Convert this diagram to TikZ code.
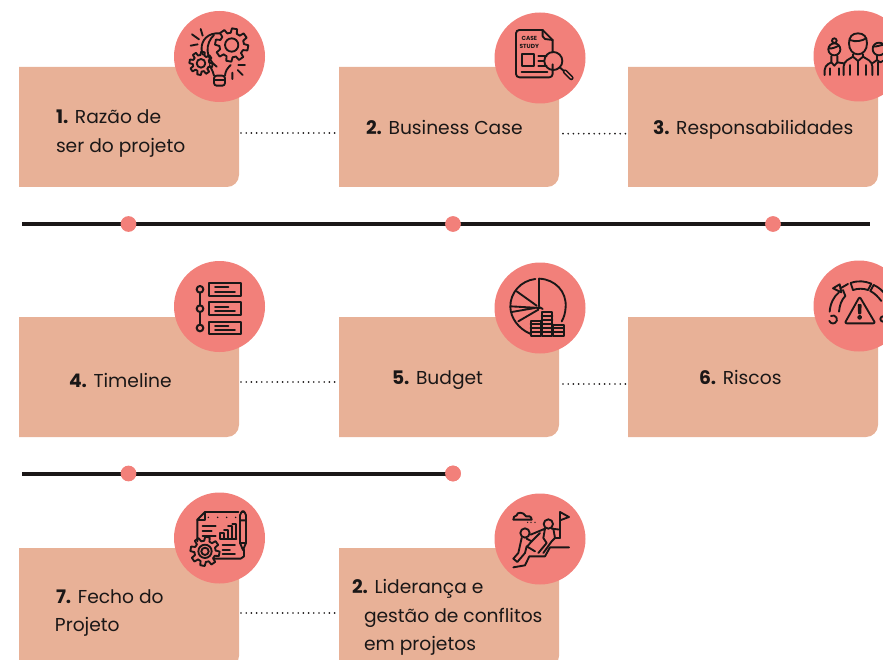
\documentclass[tikz,border=0pt]{standalone}
\usepackage{fontspec}
\setmainfont{Poppins}
\definecolor{cardc}{HTML}{E8B197}
\definecolor{pinkc}{HTML}{F2807A}
\definecolor{ink}{HTML}{1A1717}
\tikzset{
  card/.style={inner sep=0pt,outer sep=0pt},
  badge/.style={circle,fill=pinkc,minimum size=68.25pt,inner sep=0pt,outer sep=0pt},
  pin/.style={circle,fill=pinkc,minimum size=11.8pt,inner sep=0pt,outer sep=0pt},
  lbl/.style={anchor=base west,inner sep=0pt,outer sep=0pt,text=ink,font=\fontsize{14}{16}\selectfont},
  rail/.style={draw=ink,line width=3pt},
  dots/.style={draw=ink,line width=1.4pt,line cap=round,dash pattern=on 0pt off 3.9pt},
  ic/.style={draw=ink,line width=1.4pt,line cap=round,line join=round},
  icon/.style={x=.25pt,y=-.25pt}
}
\newcommand{\cardat}[5]{%
  \node[card,minimum width=#4*.75pt,minimum height=#5*.75pt] (#1) at (#2,#3) {};
  \fill[cardc] (#1.north west) -- (#1.north east) [rounded corners=9pt] -- (#1.south east) [sharp corners] -- (#1.south west) -- cycle;
}
\newcommand{\gearic}[5]{%
  \begin{scope}[shift={(#1,#2)}]
    \pgfmathsetmacro\stp{360/#5}
    \fill[pinkc] (0,0) circle (#3);
    \foreach \i in {1,...,#5}{
      \pgfmathsetmacro\aa{(\i-1)*\stp+10}
      \draw[ic] ({\aa-.32*\stp}:#3) -- ({\aa-.2*\stp}:#4) -- ({\aa+.2*\stp}:#4) -- ({\aa+.32*\stp}:#3) -- ({\aa+.68*\stp}:#3);
    }
  \end{scope}}
\begin{document}
\begin{tikzpicture}[x=.75pt,y=-.75pt]
\clip (0,0) rectangle (883,660);
\useasboundingbox (0,0) rectangle (883,660);
% cards
\cardat{b1}{129}{127}{220}{120}
\cardat{b2}{449}{127}{220}{120}
\cardat{b3}{753}{127}{250}{120}
\cardat{b4}{129}{377}{220}{120}
\cardat{b5}{449}{377}{220}{120}
\cardat{b6}{753}{377}{250}{120}
\cardat{b7}{129}{608}{220}{120}
\cardat{b8}{449}{608}{220}{120}
% badges
\node[badge] (c1) at (219.5,56.5) {};
\node[badge] (c2) at (540,58) {};
\node[badge] (c3) at (859,56) {};
\node[badge] (c4) at (219.5,306.5) {};
\node[badge] (c5) at (540,308) {};
\node[badge] (c6) at (859,306) {};
\node[badge] (c7) at (219.5,538) {};
\node[badge] (c8) at (540,539) {};
% dotted connectors
\draw[dots] ([xshift=1.5pt,yshift=-4.5pt]b1.east) -- ([yshift=-4.5pt]b2.west);
\draw[dots] ([xshift=3pt,yshift=-5pt]b2.east) -- ([yshift=-5pt]b3.west);
\draw[dots] ([xshift=1.5pt]b4.east |- 0,382) -- (b5.west |- 0,382);
\draw[dots] ([xshift=3pt]b5.east |- 0,384) -- (b6.west |- 0,384);
\draw[dots] ([xshift=1.5pt]b7.east |- 0,613) -- (b8.west |- 0,613);
% rails
\coordinate (r1a) at (22,224);
\coordinate (r1b) at (870,224);
\coordinate (r2a) at (22,473.5);
\draw[rail] (r1a) -- (r1b);
\node[pin] (p1) at (128.5,224) {};
\node[pin] (p2) at (453,224) {};
\node[pin] (p3) at (773,224) {};
\node[pin] (p5) at (453,473.5) {};
\draw[rail] (r2a) -- (p5.center);
\node[pin] (p4) at (128.5,473.5) {};
\node[pin] at (453,473.5) {};
% labels
\node[lbl] (t1) at (56,123) {\textbf{1.} Razão de};
\node[lbl] (t1b) at (56,152) {ser do projeto};
\node[lbl] (t2) at (366,135) {\textbf{2.} Business Case};
\node[lbl] (t3) at (653,135) {\textbf{3.} Responsabilidades};
\node[lbl] (t4) at (69,387) {\textbf{4.} Timeline};
\node[lbl] (t5) at (392,384) {\textbf{5.} Budget};
\node[lbl] (t6) at (699,384) {\textbf{6.} Riscos};
\node[lbl] (t7) at (56,603) {\textbf{7.} Fecho do};
\node[lbl] (t7b) at (55,631) {Projeto};
\node[lbl] (t8) at (352,593) {\textbf{2.} Liderança e};
\node[lbl] (t8b) at (364,622) {gestão de conflitos};
\node[lbl] (t8c) at (364,650) {em projetos};
% ---- icon 1
\begin{scope}[shift={(170,5)},icon]
\draw[ic] (150,85) .. controls (115,82) and (92,105) .. (95,135) .. controls (97,160) and (125,180) .. (132,212);
\draw[ic] (132,90) .. controls (105,115) and (105,160) .. (140,185);
\draw[ic] (182,180) .. controls (172,190) and (166,198) .. (165,212);
\gearic{185}{120}{37}{50}{8}
\draw[ic] (185,120) circle (20);
\gearic{93}{175}{25}{35}{8}
\draw[ic] (93,175) circle (13);
\draw[ic,rounded corners=2pt] (132,212) -- (165,212) -- (165,242) -- (132,242) -- cycle;
\draw[ic] (132,225) -- (165,225);
\draw[ic] (66,88) -- (87,103) (92,72) -- (98,92) (62,122) -- (83,118);
\draw[ic] (205,180) -- (225,180) (203,195) -- (218,210) (187,203) -- (187,222);
\end{scope}
% ---- icon 2
\begin{scope}[shift={(490,5)},icon]
\draw[ic,rounded corners=2.5pt] (158,75) -- (78,75) -- (78,217) -- (188,217) -- (188,178);
\draw[ic] (158,75) -- (188,105) -- (188,142);
\draw[ic] (158,75) -- (158,94) -- (165,102) -- (188,105);
\node[inner sep=0pt,text=ink,font=\fontsize{4.4}{5}\selectfont\bfseries] (cs1) at (118,100) {CASE};
\node[inner sep=0pt,text=ink,font=\fontsize{4.4}{5}\selectfont\bfseries] (cs2) at (118,125) {STUDY};
\draw[ic] (95,147) rectangle (132,183);
\draw[ic] (145,152) -- (170,152) (145,167) -- (162,167) (145,183) -- (170,183);
\draw[ic] (95,200) -- (172,200);
\draw[ic] (190,168) circle (27);
\draw[ic] (209,187) -- (222,198);
\draw[draw=ink,line width=3.4pt,line cap=round] (225,200) -- (244,219);
\draw[draw=pinkc,line width=1pt,line cap=round] (225,200) -- (244,219);
\end{scope}
% ---- icon 3
\begin{scope}[shift={(803,5)},icon]
\draw[ic] (94,133) circle (18);
\draw[ic] (94,107) circle (7);
\draw[ic] (77,130) .. controls (90,132) and (100,125) .. (108,122);
\draw[ic,rounded corners=3pt] (65,210) -- (65,183) -- (85,172);
\draw[ic,rounded corners=3pt] (122,175) -- (103,172);
\draw[ic] (85,153) -- (85,172) -- (94,182) -- (103,172) -- (103,153);
\draw[ic] (80,190) -- (80,210) (108,190) -- (108,210);
\draw[ic] (138,115) .. controls (138,95) and (148,85) .. (165,85) .. controls (182,85) and (192,95) .. (192,115) .. controls (192,135) and (180,148) .. (165,148) .. controls (150,148) and (138,135) .. (138,115) -- cycle;
\draw[ic] (140,105) .. controls (160,112) and (175,108) .. (190,100);
\draw[ic,rounded corners=3pt] (122,210) -- (122,172) -- (150,155);
\draw[ic,rounded corners=3pt] (180,155) -- (208,172) -- (208,210);
\draw[ic] (150,148) -- (150,155) -- (165,168) -- (180,155) -- (180,148);
\draw[ic] (165,168) -- (165,210) (140,180) -- (140,210) (190,180) -- (190,210);
\draw[ic] (228,132) circle (19);
\draw[ic] (210,125) .. controls (222,125) and (235,120) .. (245,118);
\draw[ic] (208,175) -- (222,165) -- (232,172) -- (245,165) (222,150) -- (222,165) (225,172) -- (225,210);
\end{scope}
% ---- icon 4
\begin{scope}[shift={(170,255)},icon]
\draw[ic,line width=1.5pt] (90,103) circle (10) (90,161) circle (10) (90,219) circle (10);
\draw[ic,line width=1.5pt] (90,113) -- (90,151) (90,171) -- (90,209);
\draw[ic,line width=1.5pt,line cap=butt] (117,84) rectangle (212,122) (117,142) rectangle (212,180) (117,200) rectangle (212,238);
\draw[ic] (135,96) -- (175,96) (135,110) -- (195,110) (135,155) -- (175,155) (135,168) -- (195,168) (135,212) -- (175,212) (135,225) -- (195,225);
\end{scope}
% ---- icon 5
\begin{scope}[shift={(490,258)},icon]
\draw[ic] (148,62) .. controls (195,64) and (230,100) .. (227,147) .. controls (226,165) and (222,178) .. (215,190);
\draw[ic] (136,63) .. controls (92,68) and (60,105) .. (61,147) .. controls (62,180) and (85,212) .. (122,228);
\draw[ic] (148,62) -- (148,145);
\draw[ic] (80,100) -- (140,143) (62,145) -- (150,150) (65,162) -- (135,150) (85,190) -- (145,155) (150,148) -- (158,153);
\draw[ic,fill=pinkc] (122,188) rectangle (152,235);
\draw[ic,fill=pinkc] (155,163) rectangle (187,235);
\draw[ic,fill=pinkc] (190,200) rectangle (222,235);
\foreach \yy in {199,211,223}{\draw[ic] (122,\yy) -- (152,\yy);}
\foreach \yy in {175,187,199,211,223}{\draw[ic] (155,\yy) -- (187,\yy);}
\foreach \yy in {211,223}{\draw[ic] (190,\yy) -- (222,\yy);}
\end{scope}
% ---- icon 6
\begin{scope}[shift={(803,255)},icon]
\draw[ic] (80,170) .. controls (82,145) and (92,125) .. (108,112);
\draw[ic] (108,170) .. controls (110,150) and (115,135) .. (127,123);
\draw[ic] (90,100) -- (110,88) -- (115,112) -- cycle;
\draw[ic] (112,100) -- (135,87);
\draw[ic] (120,105) -- (127,123);
\draw[ic] (143,84) .. controls (165,76) and (185,78) .. (205,86);
\draw[ic] (150,105) .. controls (165,100) and (180,100) .. (195,105);
\draw[ic] (205,86) -- (195,105);
\draw[ic] (143,84) -- (150,105);
\draw[ic] (212,90) .. controls (225,95) and (240,108) .. (250,122);
\draw[ic] (202,108) .. controls (215,115) and (225,125) .. (235,138);
\draw[ic] (212,90) -- (202,108);
\draw[ic,rounded corners=1.5pt] (170,125) -- (217,205) -- (125,205) -- cycle;
\draw[ic] (167,150) -- (173,150) -- (172,175) -- (168,175) -- cycle;
\draw[ic] (170,187) circle (5);
\draw[ic] (84,183) arc (-120:160:12);
\draw[ic] (240,192) circle (8);
\end{scope}
% ---- icon 7
\begin{scope}[shift={(170,488)},icon]
\draw[ic] (82,160) -- (82,95) -- (105,72) -- (205,72);
\draw[ic] (82,95) -- (105,95) -- (105,72);
\draw[ic] (222,185) -- (222,205) -- (212,212) -- (130,212);
\foreach \xx in {115,143,170,197}{\fill[ink] (\xx,88) circle (2.5);}
\draw[ic] (98,113) -- (137,113) (98,128) -- (125,128) (98,143) -- (137,143);
\draw[ic] (150,152) -- (150,135) -- (162,135) -- (162,152) (162,125) -- (174,125) -- (174,152) (174,115) -- (187,115) -- (187,152) (187,108) -- (199,108) -- (199,152) (150,152) -- (199,152);
\draw[ic] (158,170) -- (195,170) (158,185) -- (180,185) (158,198) -- (195,198);
\draw[ic,rounded corners=3pt] (210,165) -- (210,70) -- (228,70) -- (228,165);
\draw[ic] (210,165) -- (219,186) -- (228,165) (210,165) -- (228,165) (210,97) -- (228,97);
\gearic{105}{190}{32}{44}{8}
\draw[ic] (105,190) circle (20) (105,190) circle (11);
\end{scope}
% ---- icon 8
\begin{scope}[shift={(490,488)},icon]
\draw[ic] (210,150) -- (210,72) -- (237,87) -- (210,97);
\draw[ic] (70,95) -- (125,95) .. controls (125,85) and (115,82) .. (108,85) .. controls (100,70) and (80,72) .. (80,82) .. controls (72,84) and (70,88) .. (70,95);
\foreach \xx in {113,123,135}{\fill[ink] (\xx,103) circle (2.2);}
\draw[ic] (175,108) circle (14);
\draw[ic] (105,135) circle (14);
\draw[ic] (70,238) -- (105,232) -- (118,205) -- (165,205) -- (180,178) -- (237,178);
\draw[ic] (122,140) -- (165,122) -- (160,150) -- (170,165) -- (145,195);
\draw[ic] (185,122) -- (210,125);
\draw[ic] (190,122) -- (195,150) -- (185,160) -- (160,195);
\draw[ic] (195,150) -- (210,150);
\draw[ic] (95,150) -- (85,195) -- (70,212) -- (82,222) -- (105,195) -- (110,175) -- (135,190);
\draw[ic] (110,152) -- (125,160) -- (150,135);
\draw[ic] (112,175) -- (125,160);
\end{scope}
\end{tikzpicture}
\end{document}
